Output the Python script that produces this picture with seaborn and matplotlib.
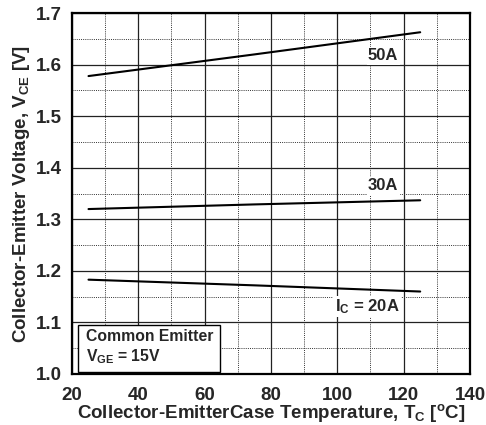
import matplotlib
matplotlib.use("Agg")
import matplotlib.pyplot as plt
import seaborn as sns
import pandas as pd
from matplotlib.ticker import MultipleLocator
from matplotlib.patches import Rectangle

temps = [25, 75, 125]
v_50a = [1.578, 1.620, 1.663]
v_30a = [1.320, 1.329, 1.337]
v_20a = [1.183, 1.172, 1.160]
series_names = ["50A", "30A", "20A"]

sns.set_style("white")
plt.rcParams['font.family'] = ['Liberation Sans', 'DejaVu Sans']
plt.rcParams['font.weight'] = 'bold'
plt.rcParams['mathtext.fontset'] = 'custom'
plt.rcParams['mathtext.rm'] = 'Liberation Sans:bold'
plt.rcParams['mathtext.bf'] = 'Liberation Sans:bold'
plt.rcParams['mathtext.it'] = 'Liberation Sans:bold'

rows = []
for name, vals in zip(series_names, [v_50a, v_30a, v_20a]):
    for t, v in zip(temps, vals):
        rows.append({"T": t, "V": v, "series": name})
df = pd.DataFrame(rows)

fig = plt.figure(figsize=(4.86, 4.25), dpi=100)
ax = fig.add_axes([0.148, 0.12, 0.819, 0.849])

sns.lineplot(data=df, x="T", y="V", units="series", estimator=None,
             color="black", linewidth=1.5, ax=ax, legend=False)

ax.set_xlim(20, 140)
ax.set_ylim(1.0, 1.7)
ax.xaxis.set_major_locator(MultipleLocator(20))
ax.xaxis.set_minor_locator(MultipleLocator(10))
ax.yaxis.set_major_locator(MultipleLocator(0.1))
ax.yaxis.set_minor_locator(MultipleLocator(0.05))
ax.set_yticklabels([f"{v:.1f}" for v in ax.get_yticks()])
ax.grid(which="major", color="#222222", linewidth=0.9, linestyle="-")
ax.grid(which="minor", color="#333333", linewidth=0.7, linestyle=(0, (1, 1.2)))
ax.set_axisbelow(True)
for s in ax.spines.values():
    s.set_color("black")
    s.set_linewidth(1.6)
ax.tick_params(axis="x", which="major", labelsize=13.5, length=0, pad=9)
ax.tick_params(axis="y", which="major", labelsize=13.5, length=0, pad=7)
for lbl in ax.get_xticklabels() + ax.get_yticklabels():
    lbl.set_fontweight("bold")

ax.set_xlabel(r"Collector-EmitterCase Temperature, T$_{\mathregular{C}}$ [$^{\mathregular{o}}$C]",
              fontsize=13.5, fontweight="bold", labelpad=-1)
ax.set_ylabel(r"Collector-Emitter Voltage, V$_{\mathregular{CE}}$ [V]",
              fontsize=13.5, fontweight="bold", labelpad=3)

bbox_w = dict(facecolor="white", edgecolor="none", pad=1)
ax.text(113.8, 1.617, "50A", fontsize=12, fontweight="bold", ha="center", va="center", bbox=bbox_w)
ax.text(113.8, 1.365, "30A", fontsize=12, fontweight="bold", ha="center", va="center", bbox=bbox_w)
ax.text(109, 1.131, r"I$_{\mathregular{C}}$ = 20A", fontsize=12, fontweight="bold",
        ha="center", va="center", bbox=bbox_w)

ax.add_patch(Rectangle((21.8, 1.004), 42.8, 0.091, facecolor="white",
                       edgecolor="black", linewidth=1.0, zorder=5))
ax.text(24.2, 1.072, "Common Emitter", fontsize=11.3, fontweight="bold",
        ha="left", va="center", zorder=6)
ax.text(24.2, 1.034, r"V$_{\mathregular{GE}}$ = 15V", fontsize=11.3, fontweight="bold",
        ha="left", va="center", zorder=6)

fig.savefig("out.png", dpi=100)
